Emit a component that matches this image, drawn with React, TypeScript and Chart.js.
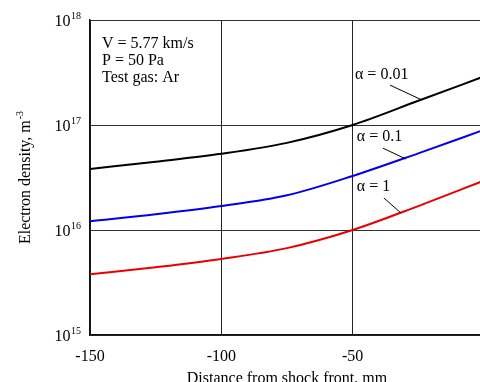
import React, { useEffect, useRef } from "react";
import { Chart, registerables } from "chart.js";

Chart.register(...registerables);

const distances = [-150, -125, -100, -75, -50, -25, 0];
const alpha001 = [3.81e16, 4.47e16, 5.32e16, 6.76e16, 1.0e17, 1.7e17, 2.9e17];
const alpha01 = [1.21e16, 1.41e16, 1.69e16, 2.14e16, 3.27e16, 5.37e16, 9.0e16];
const alpha1 = [3.78e15, 4.42e15, 5.3e15, 6.72e15, 1.0e16, 1.69e16, 2.95e16];
const xTicks = [-150, -100, -50];
const yDecades = [15, 16, 17, 18];
const infoLines = ["V = 5.77 km/s", "P = 50 Pa", "Test gas: Ar"];
// labels: text, text anchor (x, log y), leader from/to (x, log y)
const curveLabels = [
  { text: "\u03b1 = 0.01", x: -49.1, ly: 17.476, from: [-35.8, 17.38], to: [-23.6, 17.238] },
  { text: "\u03b1 = 0.1", x: -48.4, ly: 16.886, from: [-38.5, 16.78], to: [-29.7, 16.676] },
  { text: "\u03b1 = 1", x: -48.4, ly: 16.41, from: [-38.1, 16.305], to: [-31.6, 16.162] },
];

const SERIF = "'Liberation Serif', 'Times New Roman', serif";

const pts = (vals: number[]) => distances.map((d, i) => ({ x: d, y: vals[i] }));

const textPlugin = {
  id: "texts",
  afterDraw(chart: any) {
    const ctx = chart.ctx as CanvasRenderingContext2D;
    const xs = chart.scales.x;
    const ys = chart.scales.y;
    const area = chart.chartArea;
    ctx.save();
    ctx.fillStyle = "#000";
    ctx.strokeStyle = "#000";
    // y tick labels 10^n
    for (const d of yDecades) {
      const py = ys.getPixelForValue(Math.pow(10, d));
      const right = area.left - 9;
      ctx.textAlign = "right";
      ctx.textBaseline = "alphabetic";
      ctx.font = `10px ${SERIF}`;
      const sup = String(d);
      const sw = ctx.measureText(sup).width;
      ctx.fillText(sup, right, py - 1);
      ctx.font = `16px ${SERIF}`;
      ctx.fillText("10", right - sw - 0.5, py + 5.5);
    }
    // y title
    ctx.save();
    const cy = (area.top + area.bottom) / 2;
    ctx.translate(30, cy);
    ctx.rotate(-Math.PI / 2);
    ctx.font = `16px ${SERIF}`;
    const main = "Electron density, m";
    const mw = ctx.measureText(main).width;
    ctx.font = `10px ${SERIF}`;
    const supT = "-3";
    const stw = ctx.measureText(supT).width;
    const total = mw + stw + 1;
    ctx.textAlign = "left";
    ctx.font = `16px ${SERIF}`;
    ctx.fillText(main, -total / 2, 0);
    ctx.font = `10px ${SERIF}`;
    ctx.fillText(supT, -total / 2 + mw + 1, -7);
    ctx.restore();
    // x title
    ctx.font = `16px ${SERIF}`;
    ctx.textAlign = "center";
    const xc = (xs.getPixelForValue(-150) + xs.getPixelForValue(0)) / 2;
    ctx.fillText("Distance from shock front, mm", xc, area.bottom + 48);
    // info text
    ctx.textAlign = "left";
    infoLines.forEach((t, i) => {
      ctx.fillText(t, area.left + 12, area.top + 28 + i * 17);
    });
    // curve labels
    ctx.lineWidth = 1;
    for (const c of curveLabels) {
      ctx.textBaseline = "middle";
      ctx.textAlign = "left";
      ctx.fillText(c.text, xs.getPixelForValue(c.x), ys.getPixelForValue(Math.pow(10, c.ly)));
      ctx.beginPath();
      ctx.moveTo(xs.getPixelForValue(c.from[0]), ys.getPixelForValue(Math.pow(10, c.from[1])));
      ctx.lineTo(xs.getPixelForValue(c.to[0]), ys.getPixelForValue(Math.pow(10, c.to[1])));
      ctx.stroke();
    }
    ctx.restore();
  },
};

export default function App() {
  const ref = useRef<HTMLCanvasElement>(null);
  useEffect(() => {
    if (!ref.current) return;
    const ds = (label: string, vals: number[], color: string) => ({
      label,
      data: pts(vals),
      borderColor: color,
      backgroundColor: color,
      borderWidth: 2,
      pointRadius: 0,
      cubicInterpolationMode: "monotone" as const,
      fill: false,
    });
    const chart = new Chart(ref.current, {
      type: "line",
      data: {
        datasets: [
          ds("\u03b1 = 0.01", alpha001, "#000000"),
          ds("\u03b1 = 0.1", alpha01, "#0000f0"),
          ds("\u03b1 = 1", alpha1, "#e80000"),
        ],
      },
      options: {
        animation: false,
        responsive: false,
        devicePixelRatio: 1,
        layout: { padding: { top: 20, right: 0, left: 0, bottom: 0 } },
        plugins: { legend: { display: false }, tooltip: { enabled: false } },
        scales: {
          x: {
            type: "linear",
            min: -150,
            max: -1.5,
            afterBuildTicks: (s: any) => {
              s.ticks = xTicks.map((v) => ({ value: v }));
            },
            afterFit: (s: any) => {
              s.height = 47;
            },
            grid: { color: "#222", lineWidth: 1, drawTicks: false },
            border: { color: "#111", width: 1.5 },
            ticks: {
              color: "#000",
              font: { family: SERIF, size: 16 },
              padding: 12,
              maxRotation: 0,
              callback: (v: any) => String(v),
            },
          },
          y: {
            type: "logarithmic",
            min: 1e15,
            max: 1e18,
            afterBuildTicks: (s: any) => {
              s.ticks = yDecades.map((d) => ({ value: Math.pow(10, d) }));
            },
            afterFit: (s: any) => {
              s.width = 90;
            },
            grid: { color: "#333", lineWidth: 1, drawTicks: false },
            border: { color: "#111", width: 1.5 },
            ticks: { display: false },
          },
        },
      },
      plugins: [textPlugin],
    });
    return () => chart.destroy();
  }, []);
  return (
    <div style={{ position: "fixed", left: 0, top: 0, width: 480, height: 382, background: "#fff" }}>
      <canvas ref={ref} width={480} height={382} />
    </div>
  );
}
